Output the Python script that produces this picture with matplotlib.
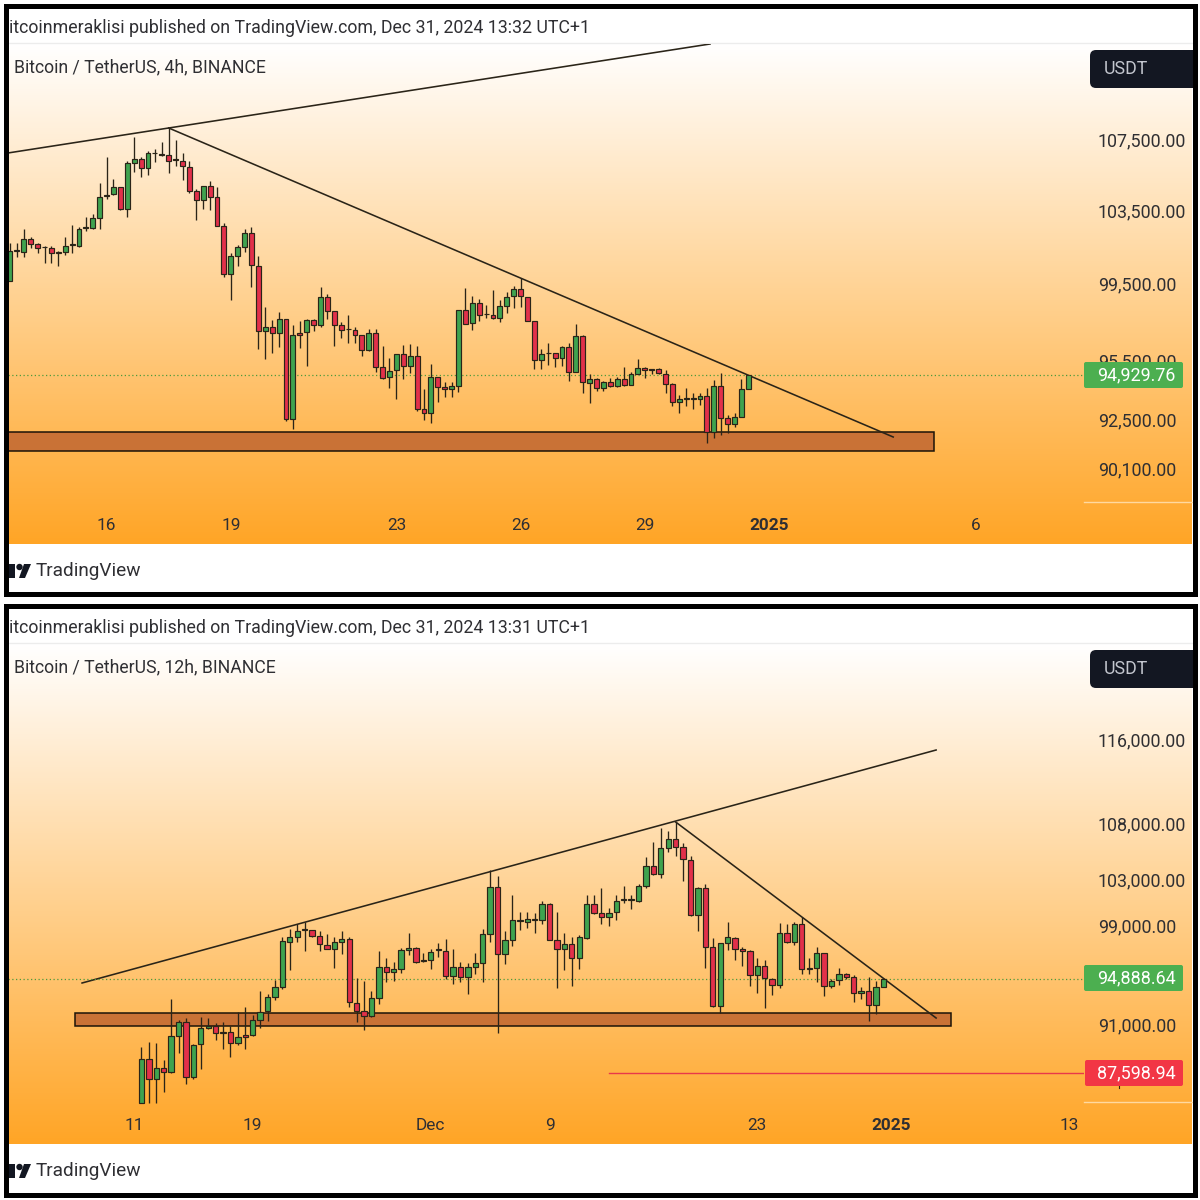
import numpy as np
import matplotlib
matplotlib.use('Agg')
import matplotlib.pyplot as plt
from matplotlib.patches import Rectangle, FancyBboxPatch, Circle, Polygon
from matplotlib.colors import LinearSegmentedColormap
from matplotlib.transforms import ScaledTranslation

plt.rcParams['font.family'] = ['Roboto', 'DejaVu Sans']

# ---- 4h chart (top) ----
t_open = [99740,101360,101310,101980,101710,101580,101510,101310,101310,101650,101610,102600,102580,103170,104450,104470,104880,103670,106220,106470,
105970,106790,106720,106720,106450,106370,106030,104640,104170,104920,104300,102710,100080,101090,101560,102340,100550,97090,97310,97000,
97710,92630,96970,97020,97680,97380,98890,98130,97400,97210,97160,96860,96090,96970,95230,94710,95080,95900,95270,95810,
93090,92930,94740,94200,94100,94280,98190,97490,98540,97990,97940,97770,98420,98930,99280,98860,97590,95570,95970,95930,
95680,96280,94990,96850,94430,94600,94180,94470,94250,94640,94320,94890,95160,95080,95150,94890,94380,93480,93630,93630,
93590,93760,91990,94280,92650,92370,92730,94100]
t_high = [101800,101760,102530,102090,101800,101610,101610,101360,102090,102750,102640,103230,103370,105120,106560,105330,104900,106370,107710,106560,
106910,107060,107440,108250,107560,106790,106370,104750,104940,105240,104860,102860,101220,101670,102530,102670,101070,98360,97660,98080,
97730,97420,97630,97700,97700,99420,99030,98150,97570,97920,97310,96880,97210,97170,96310,95680,95900,96380,96410,96310,
94130,95380,94740,94490,94490,98190,99330,98930,98750,98470,99250,98710,99160,99460,99870,98860,97630,96140,96480,95970,
96310,96480,97450,96860,94870,94690,94540,94650,94740,95210,94990,95620,95210,95150,95160,95080,94430,93810,94150,93930,
93930,94150,94570,94910,92810,92930,94600,94820]
t_low = [99740,101040,101040,101510,101250,100710,100710,100530,101140,101250,101540,102420,102530,102530,104190,104410,103600,103230,105750,105430,
105580,106300,106640,105650,106070,105280,104530,103040,103630,103600,102710,99920,98710,100530,101290,99420,96140,95620,95930,96280,
92530,92130,96190,95280,97110,97280,97700,96310,96710,96450,96450,95790,96070,94990,94620,94150,93590,94600,94940,92990,
92560,92400,93480,93700,93730,93980,97440,97140,97630,97750,97700,97540,98050,98270,98360,97590,95110,95110,95350,95210,
95280,94540,94980,93900,93390,94000,94030,94230,94230,94280,94300,94870,94670,94870,94890,93900,93260,92890,93260,93090,
93310,91410,91660,91820,91940,92230,92710,94100]
t_close = [101360,101400,101980,101710,101490,101540,101220,101250,101630,101710,102560,102640,103150,104340,104360,104880,103650,106220,106470,105970,
106790,106830,106730,106370,106410,106050,104670,104150,104920,104320,102730,100080,101090,101560,102340,100580,97090,97310,97000,97700,
92600,96860,96900,97680,97380,98890,98150,97420,97160,97170,96880,96090,96970,95250,94690,95040,95900,95270,95810,93110,
92890,94740,94220,94110,94270,98190,97450,98540,97910,97960,97770,98400,98890,99280,98910,97610,95570,95900,95930,95680,
96280,94990,96830,94450,94600,94180,94470,94250,94640,94320,94890,95180,95080,95130,94910,94380,93480,93610,93640,93640,
93760,91990,94280,92660,92380,92730,94100,94810]
t_price_ticks = [107500, 103500, 99500, 95500, 92500, 90100]
t_time_pos = [14, 32, 56, 74, 92, 110, 140]
t_time_labels = ['16', '19', '23', '26', '29', '2025', '6']
t_support = [91037, 91970]
t_support_span = [-0.3, 133.9]
t_rising = ([-0.3, 23.0, 101.45], [106811, 108252, 113239])
t_falling = ([23.0, 128.0], [108252, 91723])
t_last = '94,929.76'

# ---- 12h chart (bottom) ----
b_open = [85270,88520,87000,87800,87550,90240,91350,87170,89610,90860,91020,90530,90530,89680,90320,90320,91510,92160,93290,94090,
97790,98180,98760,98760,98290,97540,97150,97760,98040,92840,92190,91820,93240,95700,95320,95510,97100,97290,96270,96300,
97100,97040,95000,95680,94870,95730,96060,98460,102420,96800,97930,99500,99470,99610,99580,100970,97930,97180,97570,96470,
98120,100950,100230,99840,100260,101430,101430,101260,102530,104290,103560,105930,106720,105960,104860,100060,102330,97320,92600,97680,
98120,97180,96990,95030,95810,94730,94270,98510,97760,99270,95570,95650,96820,94140,94620,95160,94920,93640,93740,92660,
94090]
b_high = [89380,89810,89730,88420,93130,91480,91610,89610,91740,91640,91220,91330,91020,92130,92470,91850,93770,93530,94650,98210,
98880,99270,99440,98760,98710,98430,98210,98710,98150,94840,94570,93770,97040,96440,96140,97240,98480,97320,96880,97150,
97710,98010,97210,96140,96060,96820,98850,103940,103410,98710,101750,100290,100320,100230,101200,101030,100290,98540,98150,98320,
101750,101720,102390,100660,101750,102530,101750,102680,105130,106480,107690,107450,108240,106320,105210,102470,102680,98120,97710,99410,
98180,97370,97100,96410,96300,94780,99330,99240,99470,99890,96470,97370,96880,94730,95590,95220,95050,94060,94890,94570,
94840]
b_low = [85240,85250,85250,86030,87440,88980,86610,87000,87720,90750,89930,89280,88670,89540,89280,90240,90850,91400,93050,93950,
95460,97770,97000,98200,97030,97150,95620,96730,92520,91350,90700,91730,92740,94500,94550,95240,96680,96000,96130,95560,
96540,94710,94330,94500,93510,95130,94500,97790,90480,95920,97420,98790,98910,98550,99270,97920,94030,95460,94170,95560,
97970,100120,99250,99100,99600,101080,100510,101160,102370,103470,103230,105570,105210,102990,99910,98700,95590,92490,92030,97090,
96310,95800,94150,93600,92440,93470,93990,97650,97510,95110,95110,94520,93390,94030,94250,94740,92870,93130,91410,91970,
94090]
b_close = [88520,87000,87800,87550,90240,91350,87170,89580,90860,91020,90450,90480,89710,90140,90140,91480,92130,93320,94110,97820,
98180,98710,98820,98290,97570,97150,97760,98040,92890,92210,91820,93210,95700,95320,95510,97100,97290,96140,96170,96930,
97150,95000,95680,94870,95700,96030,98400,102420,96800,97900,99610,99580,99690,99690,100970,97960,97180,97570,96470,98150,
100950,100230,99860,100230,101260,101350,101350,102500,104290,103590,105930,106720,105960,104890,100030,102330,97370,92600,97650,98150,
97150,97020,95030,95810,94780,94270,98510,97760,99300,95570,95650,96820,94170,94600,95160,94920,93610,93770,92660,94090,
94760]
b_price_ticks = [116000, 108000, 103000, 99000, 91000]
b_time_pos = [0, 16, 40, 56, 84, 102, 126]
b_time_labels = ['11', '19', 'Dec', '9', '23', '2025', '13']
b_support = [91016, 92029]
b_support_span = [-7.95, 110.1]
b_rising = ([-7.0, 108.1], [94409, 115115])
b_falling = ([73.0, 108.1], [108273, 91638])
b_red_level = 87447
b_red_span = [64.0, 128.0]
b_last = '94,888.64'
b_red = '87,598.94'

GREEN, RED, EDGE = '#3fa34f', '#e2304a', '#2a2418'
TXT = '#2f2f33'

fig = plt.figure(figsize=(12, 12), dpi=100, facecolor='white')

# background layer, in picture pixels
bg = fig.add_axes([0, 0, 1, 1], zorder=0)
bg.set_xlim(0, 1200); bg.set_ylim(1200, 0); bg.axis('off')
cmap = LinearSegmentedColormap.from_list('g', ['#ffffff', '#ffa526'])
grad = np.linspace(0, 1, 256).reshape(-1, 1)
for top in (44, 644):
    bg.imshow(grad, cmap=cmap, aspect='auto', extent=(8, 1192, top + 500, top), zorder=0)
bg.set_xlim(0, 1200); bg.set_ylim(1200, 0)
for top in (43, 643):
    bg.plot([8, 1192], [top, top], color='#ececec', lw=1)
for y in (502, 1102):
    bg.plot([1084, 1192], [y, y], color='#ffd9a0', lw=1)


def panel(top, x0px, stepx, x_first, o, h, l, c, ticks, tpos, tlabs, sup, span,
          lines, ylim):
    ax = fig.add_axes([8 / 1200, 1 - (top + 500) / 1200, 1076 / 1200, 500 / 1200], zorder=1)
    ax.patch.set_alpha(0)
    ax.set_yscale('log')
    ax.set_ylim(*ylim)
    ax.set_xlim((8 - x0px) / stepx, (1084 - x0px) / stepx)
    x = np.arange(len(o)) + x_first
    o, h, l, c = map(np.array, (o, h, l, c))
    ax.add_patch(Rectangle((span[0], sup[0]), span[1] - span[0], sup[1] - sup[0],
                           fc='#c97236', ec='#1c1408', lw=1.1, zorder=1))
    for xs, ys in lines:
        ax.plot(xs, ys, color='#2a2418', lw=1.15, zorder=2)
    ax.axhline(c[-1], color='#4f9a3c', lw=0.9, ls=(0, (1, 2)), zorder=2)
    ax.vlines(x, l, h, color=EDGE, lw=0.95, zorder=3)
    up = c >= o
    ax.bar(x, np.maximum(np.abs(c - o), 1), bottom=np.minimum(o, c), width=0.72,
           color=np.where(up, GREEN, RED), edgecolor=EDGE, linewidth=0.85, zorder=4)
    for s in ax.spines.values():
        s.set_visible(False)
    ax.yaxis.tick_right()
    ax.set_yticks(ticks, [f'{v:,.2f}' for v in ticks])
    ax.minorticks_off()
    ax.tick_params(axis='y', length=0, pad=10, labelsize=12.85, labelcolor=TXT)
    ax.set_xticks(tpos, tlabs)
    ax.tick_params(axis='x', length=0, pad=-19, labelsize=12.4, labelcolor=TXT)
    for lab, s in zip(ax.get_xticklabels(), tlabs):
        if s == '2025':
            lab.set_fontweight('bold')
    up_shift = ScaledTranslation(0, 1.7 / 100, fig.dpi_scale_trans)
    for lab in ax.get_yticklabels():
        lab.set_transform(lab.get_transform() + up_shift)
    return ax


panel(44, 10, 6.9, 0, t_open, t_high, t_low, t_close, t_price_ticks, t_time_pos,
      t_time_labels, t_support, t_support_span, [t_rising, t_falling], (86609, 113239))
axb = panel(644, 134, 7.42, 1, b_open, b_high, b_low, b_close, b_price_ticks, b_time_pos,
            b_time_labels, b_support, b_support_span, [b_rising, b_falling], (82320, 125983))
axb.plot(b_red_span, [b_red_level] * 2, color='#e8384a', lw=1, zorder=2)

# overlay layer, in picture pixels
ov = fig.add_axes([0, 0, 1, 1], zorder=2)
ov.set_xlim(0, 1200); ov.set_ylim(1200, 0); ov.axis('off'); ov.patch.set_alpha(0)


def badge(x0, x1, y0, y1, col, r=3):
    ov.add_patch(FancyBboxPatch((x0 + r, y0 + r), x1 - x0 - 2 * r, y1 - y0 - 2 * r,
                                boxstyle=f'round,pad={r},rounding_size={r}', fc=col, ec='none', zorder=3))


for top, title, stamp, ylast, last, in (
        (0, 'Bitcoin / TetherUS, 4h, BINANCE', '13:32', 375, t_last),
        (600, 'Bitcoin / TetherUS, 12h, BINANCE', '13:31', 978, b_last)):
    ov.text(-1, top + 28, f'bitcoinmeraklisi published on TradingView.com, Dec 31, 2024 {stamp} UTC+1',
            fontsize=12.8, color=TXT, va='center', zorder=2)
    ov.text(14, top + 67.5, title, fontsize=12.7, color=TXT, va='center', zorder=2)
    ov.text(36, top + 571.5, 'TradingView', fontsize=13.7, color=TXT, va='center', zorder=2)
    # logo
    ov.add_patch(Rectangle((4, top + 564), 11, 5, fc='#131722', ec='none', zorder=2))
    ov.add_patch(Rectangle((9, top + 564), 6, 14, fc='#131722', ec='none', zorder=2))
    ov.add_patch(Circle((19.5, top + 567), 3.2, fc='#131722', ec='none', zorder=2))
    ov.add_patch(Polygon([(24, top + 564), (31, top + 564), (25, top + 578), (19, top + 578)],
                         fc='#131722', ec='none', zorder=2))
    badge(1090, 1210, top + 50, top + 88, '#131722', r=6)
    ov.text(1104, top + 69, 'USDT', fontsize=12.8, color='#c3c6ce', va='center', zorder=4)
    badge(1084, 1183, ylast - 13, ylast + 13, '#4caf50', r=2)
    ov.text(1097.5, ylast + 0.5, last, fontsize=12.85, color='white', va='center', zorder=4)

badge(1085, 1183, 1060, 1086, '#f23645', r=2)
ov.text(1097.5, 1073, b_red, fontsize=12.85, color='white', va='center', zorder=4)
ov.plot([1118.5, 1118.5], [1086, 1088], color='#3a2a10', lw=0.8, zorder=2)

# white outer margins and black frames
for r in ((0, 0, 4, 1200), (1196, 0, 4, 1200), (0, 0, 1200, 4), (0, 1196, 1200, 4), (0, 596, 1200, 8)):
    ov.add_patch(Rectangle((r[0], r[1]), r[2], r[3], fc='white', ec='none', zorder=5))
for y0, y1 in ((6, 594), (606, 1194.5)):
    ov.add_patch(Rectangle((6, y0), 1188.5, y1 - y0, fill=False, ec='black', lw=3.6, zorder=6,
                           joinstyle='miter'))

fig.savefig('out.png', dpi=100)
